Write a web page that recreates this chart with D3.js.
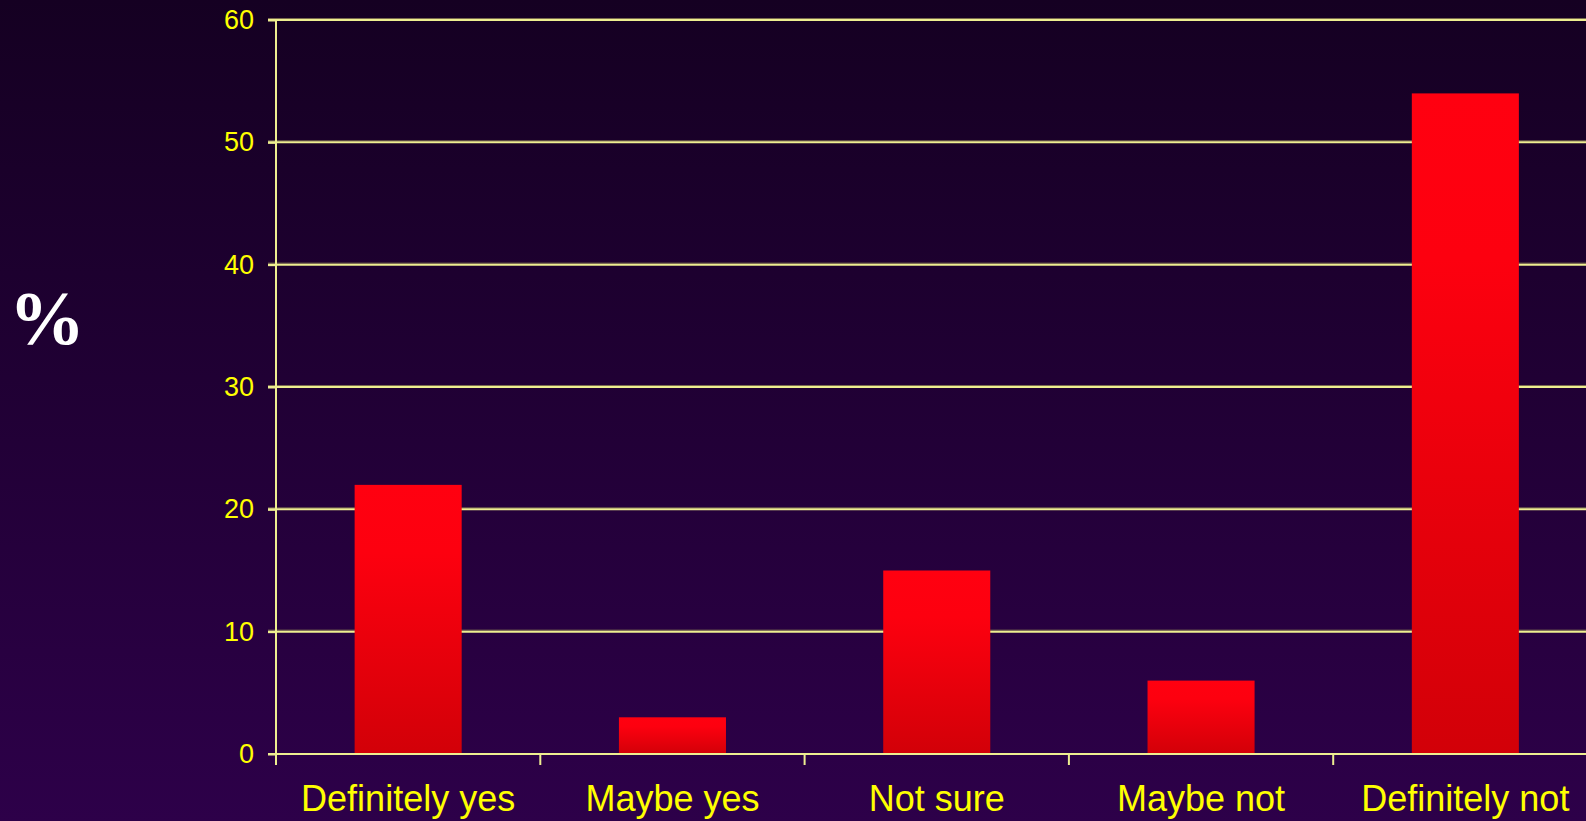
<!DOCTYPE html>
<html><head><meta charset="utf-8">
<script src="https://cdn.jsdelivr.net/npm/d3@7"></script>
<style>html,body{margin:0;padding:0;overflow:hidden;background:#200034}</style>
</head><body>
<script>
const categories = ["Definitely yes", "Maybe yes", "Not sure", "Maybe not", "Definitely not"];
const values = [22, 3, 15, 6, 54];
const yTicks = [0, 10, 20, 30, 40, 50, 60];
const yLabel = "%";

const W = 1586, H = 821;
const svg = d3.select("body").append("svg").attr("width", W).attr("height", H);
const defs = svg.append("defs");
const bg = defs.append("linearGradient").attr("id", "bg").attr("x1", 0).attr("y1", 0).attr("x2", 0).attr("y2", 1);
bg.append("stop").attr("offset", 0).attr("stop-color", "#150022");
bg.append("stop").attr("offset", 1).attr("stop-color", "#2d0049");
const bar = defs.append("linearGradient").attr("id", "bar").attr("x1", 0).attr("y1", 0).attr("x2", 0).attr("y2", 1);
bar.append("stop").attr("offset", 0).attr("stop-color", "#ff0010");
bar.append("stop").attr("offset", 0.25).attr("stop-color", "#fd000f");
bar.append("stop").attr("offset", 1).attr("stop-color", "#d20008");

svg.append("rect").attr("width", W).attr("height", H).attr("fill", "url(#bg)");

const left = 276, band = 264.3;
const x = d3.scaleBand().domain(categories).range([left, left + band * categories.length]).paddingInner(0.595).paddingOuter(0.2975);
const y = d3.scaleLinear().domain([0, 60]).range([754, 20]);

// gridlines
const grid = svg.append("g");
yTicks.filter(t => t > 0).forEach(t => {
  grid.append("line").attr("x1", 268).attr("x2", W).attr("y1", y(t) - 1.5).attr("y2", y(t) - 1.5)
    .attr("stroke", "#7a6a50").attr("stroke-width", 1);
  grid.append("line").attr("x1", 268).attr("x2", W).attr("y1", y(t)).attr("y2", y(t))
    .attr("stroke", "#eeee90").attr("stroke-width", 2);
});

// bars
svg.append("g").selectAll("rect").data(values).join("rect")
  .attr("x", (d, i) => x(categories[i]))
  .attr("width", x.bandwidth())
  .attr("y", d => y(d))
  .attr("height", d => y(0) - y(d))
  .attr("fill", "url(#bar)");

// y axis
const yAxis = d3.axisLeft(y).tickValues(yTicks).tickSize(8).tickPadding(14);
const gy = svg.append("g").attr("transform", `translate(${left},0)`).call(yAxis);
gy.attr("font-size", 27).attr("font-family", "Liberation Sans, Arial, sans-serif");
gy.select(".domain").remove();
gy.selectAll(".tick line").attr("stroke", "#eeee90").attr("stroke-width", 2);
gy.selectAll(".tick text").attr("fill", "#ffff00").attr("font-size", 27);
svg.append("line").attr("x1", left).attr("x2", left).attr("y1", 20).attr("y2", 765).attr("stroke", "#eeee90").attr("stroke-width", 2);

// x axis
svg.append("line").attr("x1", 268).attr("x2", W).attr("y1", y(0)).attr("y2", y(0)).attr("stroke", "#eeee90").attr("stroke-width", 2);
const tickPos = d3.range(categories.length + 1).map(i => left + i * band);
svg.append("g").selectAll("line").data(tickPos).join("line")
  .attr("x1", d => d).attr("x2", d => d).attr("y1", y(0)).attr("y2", 765)
  .attr("stroke", "#eeee90").attr("stroke-width", 2);
svg.append("g").selectAll("text").data(categories).join("text")
  .attr("x", d => x(d) + x.bandwidth() / 2).attr("y", 811)
  .attr("text-anchor", "middle").attr("fill", "#ffff00")
  .attr("font-family", "Liberation Sans, Arial, sans-serif").attr("font-size", 36)
  .text(d => d);

svg.append("text").attr("x", 47).attr("y", 344).attr("text-anchor", "middle")
  .attr("fill", "#ffffff").attr("font-family", "Liberation Serif, Times New Roman, serif")
  .attr("font-weight", "bold").attr("font-size", 76).text(yLabel);
</script>
</body></html>
